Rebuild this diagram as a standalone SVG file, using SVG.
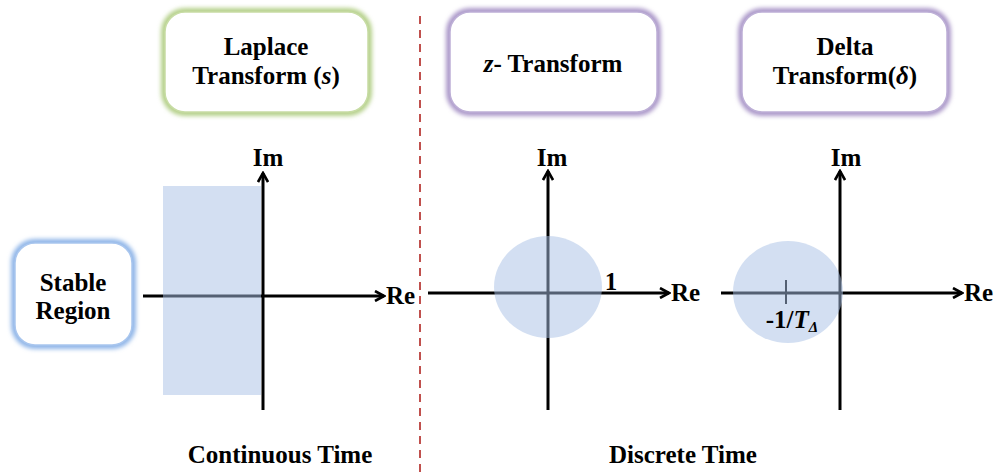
<svg xmlns="http://www.w3.org/2000/svg" width="998" height="472" viewBox="0 0 998 472">
  <defs>
    <style>
      .lbl { font-family: "Liberation Serif", "Times New Roman", serif; font-weight: bold; font-size: 25px; fill: #000; text-anchor: middle; }
      .start { text-anchor: start; }
      .axis { stroke: #000; stroke-width: 3; fill: none; }
      .shade { fill: #a8c0e6; fill-opacity: 0.5; }
      .card { fill: #fff; stroke-width: 1.5; }
      .glow { fill: none; stroke-width: 8; filter: url(#soft); }
    </style>
    <filter id="soft" x="-20%" y="-20%" width="140%" height="140%">
      <feGaussianBlur stdDeviation="2.2"/>
    </filter>
    <marker id="arrow" viewBox="0 0 12 12" refX="10" refY="6" markerWidth="12" markerHeight="12" markerUnits="userSpaceOnUse" orient="auto">
      <path d="M1,1 L10,6 L1,11" fill="none" stroke="#000" stroke-width="2.6"/>
    </marker>
  </defs>
  <rect width="998" height="472" fill="#fff"/>

  <!-- divider between continuous and discrete time -->
  <line x1="420" y1="16" x2="420" y2="472" stroke="#c0504d" stroke-width="2" stroke-dasharray="8,6"/>

  <!-- header cards -->
  <g id="laplace">
    <rect class="glow" x="165" y="12" width="203" height="100" rx="20" stroke="#b5d08a"/>
    <rect class="card" x="165" y="12" width="203" height="100" rx="20" stroke="#c7dca4"/>
    <text class="lbl" x="266" y="55">Laplace</text>
    <text class="lbl" x="266" y="84">Transform (<tspan font-style="italic">s</tspan>)</text>
  </g>
  <g id="ztransform">
    <rect class="glow" x="450" y="12" width="207" height="100" rx="20" stroke="#ab98c9"/>
    <rect class="card" x="450" y="12" width="207" height="100" rx="20" stroke="#bdafd6"/>
    <text class="lbl" x="553" y="72"><tspan font-style="italic">z</tspan>- Transform</text>
  </g>
  <g id="delta">
    <rect class="glow" x="742" y="12" width="205" height="100" rx="20" stroke="#ab98c9"/>
    <rect class="card" x="742" y="12" width="205" height="100" rx="20" stroke="#bdafd6"/>
    <text class="lbl" x="845" y="55">Delta</text>
    <text class="lbl" x="845" y="84">Transform(<tspan font-style="italic">δ</tspan>)</text>
  </g>
  <g id="stable">
    <rect class="glow" x="15" y="243" width="117" height="102" rx="20" stroke="#8fb5e8"/>
    <rect class="card" x="15" y="243" width="117" height="102" rx="20" stroke="#a9c6ee"/>
    <text class="lbl" x="73" y="291">Stable</text>
    <text class="lbl" x="73" y="319">Region</text>
  </g>

  <!-- axes -->
  <g id="connectors">
    <line class="axis" x1="143" y1="296" x2="384" y2="296" marker-end="url(#arrow)"/>
    <line class="axis" x1="263" y1="410" x2="263" y2="173" marker-end="url(#arrow)"/>
    <line class="axis" x1="428" y1="293" x2="669" y2="293" marker-end="url(#arrow)"/>
    <line class="axis" x1="548" y1="410" x2="548" y2="171" marker-end="url(#arrow)"/>
    <line class="axis" x1="721" y1="293" x2="962" y2="293" marker-end="url(#arrow)"/>
    <line class="axis" x1="840" y1="410" x2="840" y2="171" marker-end="url(#arrow)"/>
    <line x1="786" y1="280" x2="786" y2="304" stroke="#000" stroke-width="2"/>
  </g>

  <!-- stable regions -->
  <g id="s-region"><rect class="shade" x="163" y="186" width="98" height="209"/></g>
  <g id="z-region"><ellipse class="shade" cx="548" cy="287" rx="54" ry="51"/></g>
  <g id="delta-region"><ellipse class="shade" cx="788" cy="292" rx="55" ry="51"/></g>

  <!-- axis labels -->
  <text class="lbl" x="268" y="166">Im</text>
  <text class="lbl start" x="386" y="304">Re</text>
  <text class="lbl" x="552" y="166">Im</text>
  <text class="lbl start" x="671" y="301">Re</text>
  <text class="lbl" x="846" y="166">Im</text>
  <text class="lbl start" x="964" y="301">Re</text>
  <text class="lbl" x="611" y="290">1</text>
  <text class="lbl" x="792" y="328">-1/<tspan font-style="italic">T</tspan><tspan font-style="italic" font-size="15" dy="4">Δ</tspan></text>

  <!-- captions -->
  <text class="lbl" x="280" y="463">Continuous Time</text>
  <text class="lbl" x="683" y="463">Discrete Time</text>
</svg>
